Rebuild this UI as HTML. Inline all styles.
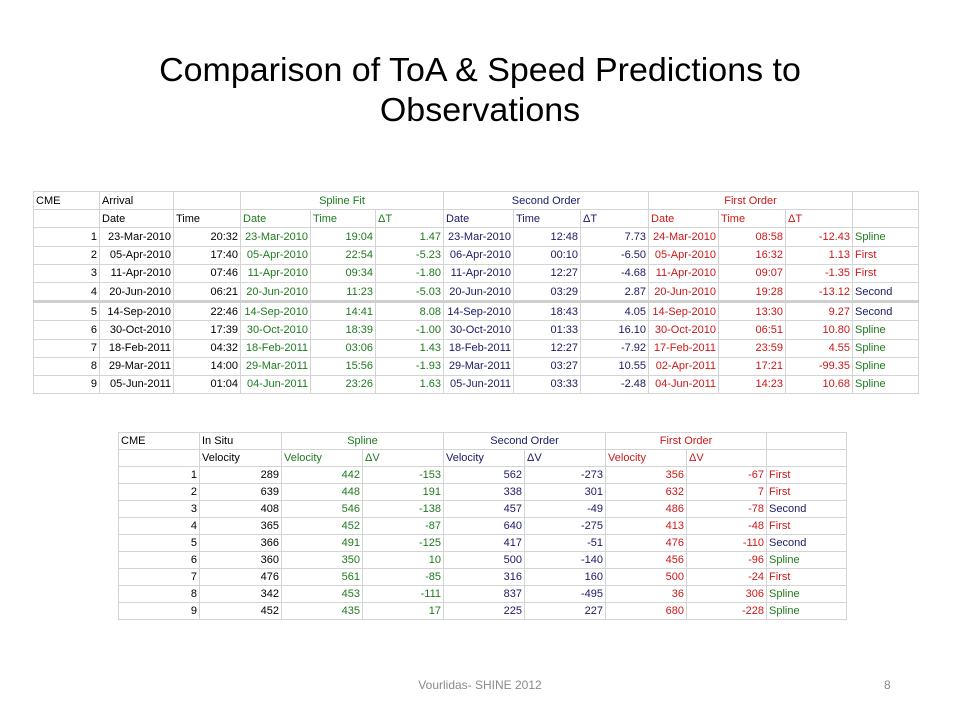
<!DOCTYPE html>
<html><head><meta charset="utf-8">
<style>
body{margin:0;width:960px;height:720px;background:#fff;position:relative;overflow:hidden;font-family:"Liberation Sans",sans-serif}
#title{position:absolute;left:0;width:960px;top:50px;text-align:center;font-size:33px;line-height:40px;color:#000;transform:scaleX(1.03);transform-origin:480px 0}
table{position:absolute;border-collapse:collapse;table-layout:fixed;font-size:11px}
td{border:1px solid #d4d4d4;padding:0 2px;white-space:nowrap;overflow:hidden;line-height:16px}
#t1 td{height:17.2px;padding-top:0;padding-bottom:0}
#t2 td{height:16px}
.r{text-align:right}.c{text-align:center}
.g{color:#1e7a1e}.n{color:#1a1a66}.d{color:#cc1818}
#t1 tr.sep td{border-top:3px solid #cfcfcf}
#foot{position:absolute;top:678px;left:0;width:960px;text-align:center;font-size:12px;color:#8a8a8a}
#pg{position:absolute;top:678px;left:884px;font-size:12px;color:#8a8a8a}
</style></head><body>
<div id="title">Comparison of ToA &amp; Speed Predictions to<br>Observations</div>

<table id="t1" style="left:33px;top:191px;width:885px">
<colgroup><col style="width:66px"><col style="width:74px"><col style="width:67px"><col style="width:70px"><col style="width:65px"><col style="width:68px"><col style="width:70px"><col style="width:67px"><col style="width:68px"><col style="width:70px"><col style="width:67px"><col style="width:67px"><col style="width:66px"></colgroup>
<tbody id="t1b"></tbody></table>

<table id="t2" style="left:118px;top:432px;width:728px">
<colgroup><col style="width:81px"><col style="width:82px"><col style="width:81px"><col style="width:81px"><col style="width:81px"><col style="width:81px"><col style="width:81px"><col style="width:80px"><col style="width:80px"></colgroup>
<tbody id="t2b"></tbody></table>

<div id="foot">Vourlidas- SHINE 2012</div>
<div id="pg">8</div>

<script>
const toaRows=[
["1","23-Mar-2010","20:32","23-Mar-2010","19:04","1.47","23-Mar-2010","12:48","7.73","24-Mar-2010","08:58","-12.43","Spline"],
["2","05-Apr-2010","17:40","05-Apr-2010","22:54","-5.23","06-Apr-2010","00:10","-6.50","05-Apr-2010","16:32","1.13","First"],
["3","11-Apr-2010","07:46","11-Apr-2010","09:34","-1.80","11-Apr-2010","12:27","-4.68","11-Apr-2010","09:07","-1.35","First"],
["4","20-Jun-2010","06:21","20-Jun-2010","11:23","-5.03","20-Jun-2010","03:29","2.87","20-Jun-2010","19:28","-13.12","Second"],
["5","14-Sep-2010","22:46","14-Sep-2010","14:41","8.08","14-Sep-2010","18:43","4.05","14-Sep-2010","13:30","9.27","Second"],
["6","30-Oct-2010","17:39","30-Oct-2010","18:39","-1.00","30-Oct-2010","01:33","16.10","30-Oct-2010","06:51","10.80","Spline"],
["7","18-Feb-2011","04:32","18-Feb-2011","03:06","1.43","18-Feb-2011","12:27","-7.92","17-Feb-2011","23:59","4.55","Spline"],
["8","29-Mar-2011","14:00","29-Mar-2011","15:56","-1.93","29-Mar-2011","03:27","10.55","02-Apr-2011","17:21","-99.35","Spline"],
["9","05-Jun-2011","01:04","04-Jun-2011","23:26","1.63","05-Jun-2011","03:33","-2.48","04-Jun-2011","14:23","10.68","Spline"]];
const velRows=[
["1","289","442","-153","562","-273","356","-67","First"],
["2","639","448","191","338","301","632","7","First"],
["3","408","546","-138","457","-49","486","-78","Second"],
["4","365","452","-87","640","-275","413","-48","First"],
["5","366","491","-125","417","-51","476","-110","Second"],
["6","360","350","10","500","-140","456","-96","Spline"],
["7","476","561","-85","316","160","500","-24","First"],
["8","342","453","-111","837","-495","36","306","Spline"],
["9","452","435","17","225","227","680","-228","Spline"]];
const bestCls={Spline:"g",Second:"n",First:"d"};
function cell(tr,txt,cls,span){
  const td=document.createElement('td');
  
  
  td.textContent=txt;td.className=cls||"";
  if(span)td.colSpan=span;
  tr.appendChild(td);return td;
}
function row(tb){const tr=document.createElement('tr');
  
  
  tb.appendChild(tr);return tr;}
const b1=document.getElementById('t1b');
let r=row(b1);cell(r,"CME");cell(r,"Arrival");cell(r,"");cell(r,"Spline Fit","c g",3);cell(r,"Second Order","c n",3);cell(r,"First Order","c d",3);cell(r,"");
r=row(b1);cell(r,"");cell(r,"Date");cell(r,"Time");cell(r,"Date","g");cell(r,"Time","g");cell(r,"ΔT","g");cell(r,"Date","n");cell(r,"Time","n");cell(r,"ΔT","n");cell(r,"Date","d");cell(r,"Time","d");cell(r,"ΔT","d");cell(r,"");
const c1=["r","r","r","r g","r g","r g","r n","r n","r n","r d","r d","r d"];
toaRows.forEach((d,i)=>{r=row(b1);if(i==4)r.className="sep";
  d.forEach((v,j)=>{if(j<12)cell(r,v,c1[j]);else cell(r,v,bestCls[v]);});});
const b2=document.getElementById('t2b');
r=row(b2);cell(r,"CME");cell(r,"In Situ");cell(r,"Spline","c g",2);cell(r,"Second Order","c n",2);cell(r,"First Order","c d",2);cell(r,"");
r=row(b2);cell(r,"");cell(r,"Velocity");cell(r,"Velocity","g");cell(r,"ΔV","g");cell(r,"Velocity","n");cell(r,"ΔV","n");cell(r,"Velocity","d");cell(r,"ΔV","d");cell(r,"");
const c2=["r","r","r g","r g","r n","r n","r d","r d"];
velRows.forEach(d=>{r=row(b2);d.forEach((v,j)=>{if(j<8)cell(r,v,c2[j]);else cell(r,v,bestCls[v]);});});
</script>
</body></html>
